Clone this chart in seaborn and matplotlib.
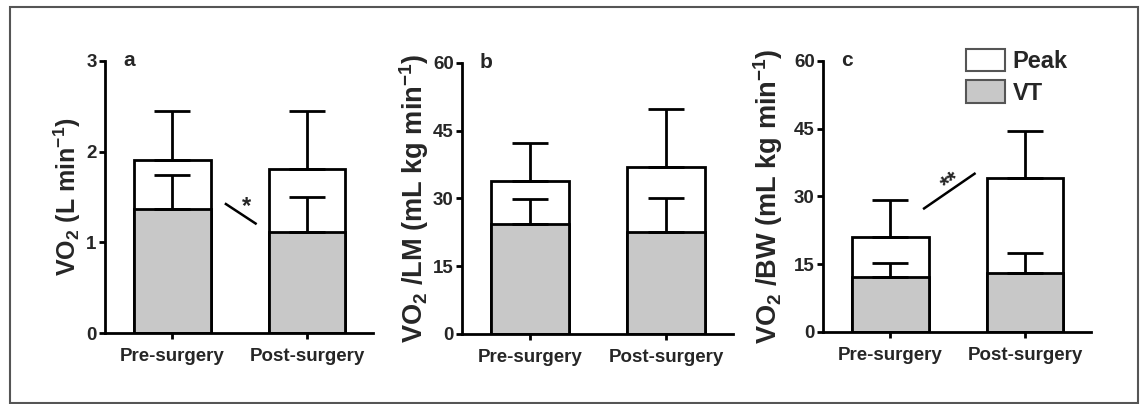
import matplotlib
matplotlib.use("Agg")
import matplotlib.pyplot as plt
from matplotlib.patches import Rectangle, Patch
import numpy as np
import seaborn as sns

categories = ["Pre-surgery", "Post-surgery"]

a_peak = [1.91, 1.81]
a_peak_sd = [0.54, 0.64]
a_vt = [1.37, 1.11]
a_vt_sd = [0.37, 0.39]

b_peak = [33.9, 37.0]
b_peak_sd = [8.4, 12.8]
b_vt = [24.3, 22.6]
b_vt_sd = [5.6, 7.4]

c_peak = [21.1, 34.0]
c_peak_sd = [8.1, 10.4]
c_vt = [12.1, 13.0]
c_vt_sd = [3.1, 4.4]

a_ticks = [0, 1, 2, 3]
bc_ticks = [0, 15, 30, 45, 60]

sns.set_theme(style="ticks")
plt.rcParams['font.family'] = ['Liberation Sans', 'DejaVu Sans']
plt.rcParams['mathtext.fontset'] = 'custom'
plt.rcParams['mathtext.rm'] = 'Liberation Sans:bold'
plt.rcParams['mathtext.bf'] = 'Liberation Sans:bold'
plt.rcParams['mathtext.it'] = 'Liberation Sans:bold'
plt.rcParams['mathtext.default'] = 'bf'

W, H = 1144, 404
fig = plt.figure(figsize=(W / 100, H / 100), dpi=100)
fig.patch.set_facecolor('white')

def px_axes(left, right, top, bottom):
    return fig.add_axes([left / W, (H - bottom) / H, (right - left) / W, (bottom - top) / H])

GRAY = '#c8c8c8'
LW = 2.0

def panel(ax, peak, peak_sd, vt, vt_sd, ticks, ylabel, letter, ylabel_x, ylabel_size):
    sns.barplot(x=categories, y=peak, ax=ax, color='white', edgecolor='black',
                linewidth=LW, width=0.57, errorbar=None, saturation=1)
    sns.barplot(x=categories, y=vt, ax=ax, color=GRAY, edgecolor='black',
                linewidth=LW, width=0.57, errorbar=None, saturation=1)
    xs = np.arange(len(categories))
    ax.errorbar(xs, peak, yerr=[np.zeros(len(peak)), peak_sd], fmt='none',
                ecolor='black', elinewidth=LW, capsize=13, capthick=LW, zorder=1)
    ax.errorbar(xs, vt, yerr=[np.zeros(len(vt)), vt_sd], fmt='none',
                ecolor='black', elinewidth=LW, capsize=13, capthick=LW, zorder=3)
    ax.set_xlim(-0.5, 1.49)
    ax.set_ylim(ticks[0], ticks[-1])
    ax.set_yticks(ticks)
    ax.set_yticklabels([str(t) for t in ticks])
    ax.set_xlabel('')
    ax.set_ylabel(ylabel, fontsize=ylabel_size, fontweight='bold')
    ax.yaxis.set_label_coords(ylabel_x, 0.5)
    for s in ['top', 'right']:
        ax.spines[s].set_visible(False)
    for s in ['left', 'bottom']:
        ax.spines[s].set_linewidth(LW)
        ax.spines[s].set_color('black')
    ax.tick_params(axis='both', length=4, width=LW, color='black', labelsize=13.5,
                   direction='out')
    ax.tick_params(axis='y', pad=2)
    ax.tick_params(axis='x', pad=7)
    for lab in ax.get_xticklabels() + ax.get_yticklabels():
        lab.set_fontweight('bold')
    ax.set_facecolor('none')
    ax.text(0.09, 1.0, letter, transform=ax.transAxes, fontsize=15, fontweight='bold',
            ha='center', va='center')

ax_a = px_axes(105, 373, 61, 333)
panel(ax_a, a_peak, a_peak_sd, a_vt, a_vt_sd, a_ticks,
      r'VO$_2$ (L min$^{-1}$)', 'a', -0.082, 18)

ax_b = px_axes(462, 733, 63, 334)
panel(ax_b, b_peak, b_peak_sd, b_vt, b_vt_sd, bc_ticks,
      r'VO$_2$ /LM (mL kg min$^{-1}$)', 'b', -0.114, 19.5)

ax_c = px_axes(823, 1091, 61, 332)
panel(ax_c, c_peak, c_peak_sd, c_vt, c_vt_sd, bc_ticks,
      r'VO$_2$ /BW (mL kg min$^{-1}$)', 'c', -0.140, 19.5)

# significance marks
ax_a.plot([0.39, 0.626], [1.43, 1.20], color='black', lw=1.8, solid_capstyle='butt')
ax_a.text(0.55, 1.40, '*', fontsize=17, fontweight='bold', ha='center', va='center')

ax_c.plot([0.243, 0.633], [27.2, 35.2], color='black', lw=1.8, solid_capstyle='butt')
ax_c.text(0.45, 33.3, '**', fontsize=17, fontweight='bold', ha='center', va='center',
          rotation=35)

handles = [Patch(facecolor='white', edgecolor='#555555', linewidth=1.5, label='Peak'),
           Patch(facecolor=GRAY, edgecolor='#555555', linewidth=1.5, label='VT')]
leg = ax_c.legend(handles=handles, loc='upper left', bbox_to_anchor=(0.535, 1.045),
                  frameon=False, fontsize=17, handlelength=1.65, handleheight=1.1,
                  labelspacing=0.3, handletextpad=0.3, borderpad=0, borderaxespad=0)
for t in leg.get_texts():
    t.set_fontweight('bold')

fig.patches.append(Rectangle((10 / W, 1 / H), 1128 / W, 396 / H, transform=fig.transFigure,
                             fill=False, edgecolor='#555555', linewidth=1.5))

fig.savefig('out.png', dpi=100, facecolor='white')
